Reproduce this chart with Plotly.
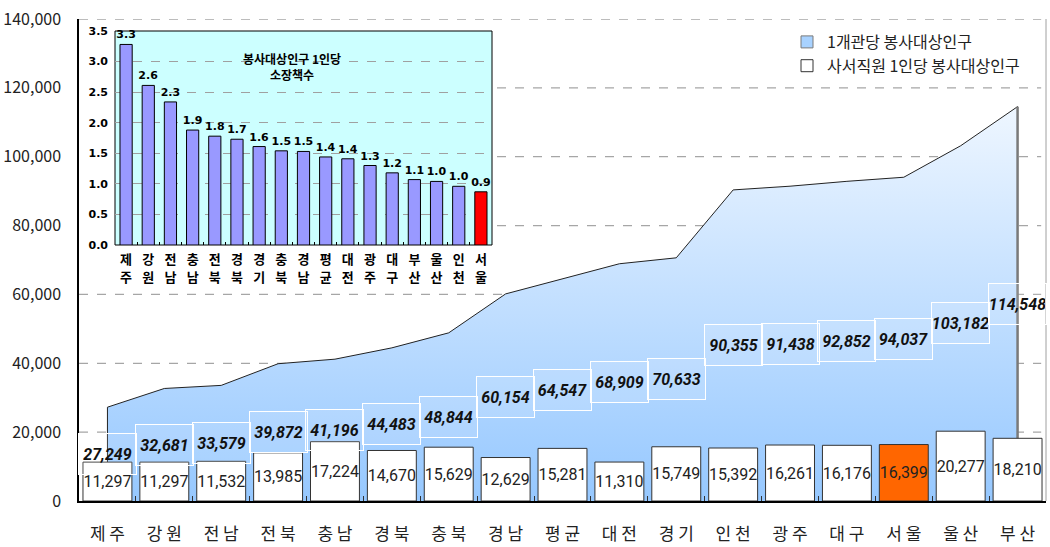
import plotly.graph_objects as go

# ---------------- data ----------------
categories = ["제주", "강원", "전남", "전북", "충남", "경북", "충북", "경남", "평균",
              "대전", "경기", "인천", "광주", "대구", "서울", "울산", "부산"]
pop_per_library = [27249, 32681, 33579, 39872, 41196, 44483, 48844, 60154, 64547,
                   68909, 70633, 90355, 91438, 92852, 94037, 103182, 114548]
pop_per_librarian = [11297, 11297, 11532, 13985, 17224, 14670, 15629, 12629, 15281,
                     11310, 15749, 15392, 16261, 16176, 16399, 20277, 18210]
highlight = "서울"

inset_categories = ["제주", "강원", "전남", "충남", "전북", "경북", "경기", "충북", "경남",
                    "평균", "대전", "광주", "대구", "부산", "울산", "인천", "서울"]
books_per_capita = [3.28, 2.61, 2.34, 1.88, 1.78, 1.73, 1.61, 1.54, 1.53,
                    1.44, 1.41, 1.30, 1.18, 1.07, 1.04, 0.96, 0.87]

y_ticks = [0, 20000, 40000, 60000, 80000, 100000, 120000, 140000]
inset_y_ticks = [0.0, 0.5, 1.0, 1.5, 2.0, 2.5, 3.0, 3.5]

name_area = "1개관당 봉사대상인구"
name_bar = "사서직원 1인당 봉사대상인구"
inset_title = "봉사대상인구 1인당<br>소장책수"

# ---------------- styling ----------------
KR = "Noto Sans CJK KR"
NUM = "Roboto"
NUM_BOLD = "DejaVu Sans"
W, H = 1050, 547
L, R, T, B = 79, 4, 19, 46
plot_w = W - L - R
plot_h = H - T - B

def px_to_xpaper(px):
    return (px - L) / plot_w

def px_to_ypaper(py):
    return 1 - (py - T) / plot_h

idx = list(range(len(categories)))
n = len(categories)

fig = go.Figure()

# area (1개관당 봉사대상인구)
area_x = [idx[0]] + idx + [idx[-1]]
area_y = [0] + pop_per_library + [0]
fig.add_trace(go.Scatter(
    x=area_x, y=area_y, mode="lines", fill="toself",
    fillgradient=dict(type="vertical",
                      colorscale=[[0, "#96C8FF"], [0.5, "#C2DFFF"], [1, "#EEF6FF"]]),
    line=dict(color="#222222", width=1),
    name=name_area, hoverinfo="skip", showlegend=False,
))
# right edge of the area
fig.add_trace(go.Scatter(
    x=[idx[-1], idx[-1]], y=[0, pop_per_library[-1]], mode="lines",
    line=dict(color="#7a7a7a", width=2.5), showlegend=False, hoverinfo="skip",
))

# bars (사서직원 1인당) on an overlaying axis pair so they sit above the area
bar_colors = ["#FF6600" if c == highlight else "#FFFFFF" for c in categories]
fig.add_trace(go.Bar(
    x=idx, y=pop_per_librarian, width=0.86, xaxis="x3", yaxis="y3",
    marker=dict(color=bar_colors, line=dict(color="#333333", width=1)),
    texttemplate="%{y:,}", textposition="inside", insidetextanchor="middle",
    textangle=0, constraintext="none",
    textfont=dict(family=NUM, size=16, color="#222222"),
    name=name_bar, hoverinfo="skip", showlegend=False,
))

# legend entries
fig.add_trace(go.Scatter(
    x=[None], y=[None], mode="markers", name=name_area,
    marker=dict(symbol="square", size=12, color="#A8D2FF", line=dict(color="#7a7a7a", width=1)),
))
fig.add_trace(go.Scatter(
    x=[None], y=[None], mode="markers", name=name_bar,
    marker=dict(symbol="square", size=12, color="#FFFFFF", line=dict(color="#333333", width=1)),
))

# inset bars
inset_idx = list(range(len(inset_categories)))
inset_colors = ["#FF0000" if c == highlight else "#9999FF" for c in inset_categories]
fig.add_trace(go.Bar(
    x=inset_idx, y=books_per_capita, width=0.55, xaxis="x2", yaxis="y2",
    marker=dict(color=inset_colors, line=dict(color="#000000", width=1)),
    texttemplate="%{y:.1f}", textposition="outside", cliponaxis=False,
    constraintext="none",
    textfont=dict(family=NUM_BOLD, size=11, color="#000000", weight="bold"),
    showlegend=False, hoverinfo="skip",
))
# carrier for the second row of inset category labels
fig.add_trace(go.Scatter(x=[None], y=[None], xaxis="x4", yaxis="y2",
                         showlegend=False, hoverinfo="skip"))

# ---------------- shapes: gridlines + inset background ----------------
shapes = []
inset_left_px, inset_right_px = 115, 492
inset_top_px, inset_bottom_px = 31, 245
inset_cover_bottom = px_to_ypaper(291)
ymax = y_ticks[-1]
for t in y_ticks[1:]:
    frac = t / ymax
    x0 = 0
    if inset_cover_bottom < frac < 0.999:
        x0 = px_to_xpaper(497)
    shapes.append(dict(type="line", xref="paper", yref="y", x0=x0, x1=0.995, y0=t, y1=t,
                       line=dict(color="#A6A6A6", width=1.3, dash="dash"), layer="below"))
shapes.append(dict(type="rect", xref="x2 domain", yref="y2 domain", x0=0, x1=1, y0=0, y1=1,
                   fillcolor="#CCFFFF", line=dict(color="#000000", width=1), layer="below"))
shapes.append(dict(type="line", xref="paper", yref="paper", x0=1, x1=1, y0=0, y1=1,
                   line=dict(color="#A0A0A0", width=1), layer="below"))

# ---------------- annotations ----------------
annotations = []
for i, v in zip(idx, pop_per_library):
    annotations.append(dict(
        x=i, y=v / 2, xref="x", yref="y", text=f"{v:,}", showarrow=False,
        xanchor="center", yanchor="middle",
        font=dict(family=NUM, size=16, color="#111111", weight="bold", style="italic"),
        width=55, height=38, bordercolor="#FFFFFF", borderwidth=1,
        bgcolor="rgba(255,255,255,0.12)",
    ))
annotations.append(dict(
    x=0.47, y=0.835, xref="x2 domain", yref="y2 domain", text=inset_title,
    xanchor="center", yanchor="middle",
    showarrow=False, font=dict(family=KR, size=12, color="#000000", weight="bold"),
))

common_x = dict(range=[-0.5, n - 0.5], automargin=False)
common_y = dict(range=[0, ymax], automargin=False)
inset_domain_x = [px_to_xpaper(inset_left_px), px_to_xpaper(inset_right_px)]
inset_range_x = [-0.5, len(inset_categories) - 0.5]
inset_tickfont = dict(family=KR, size=13, color="#000000", weight="bold")

fig.update_layout(
    width=W, height=H,
    margin=dict(l=L, r=R, t=T, b=B, pad=0),
    paper_bgcolor="#FFFFFF", plot_bgcolor="rgba(0,0,0,0)",
    font=dict(family=KR, size=16, color="#222222"),
    showlegend=True,
    legend=dict(x=px_to_xpaper(787), y=px_to_ypaper(25), xanchor="left", yanchor="top",
                bgcolor="#FFFFFF", borderwidth=0, itemwidth=30, tracegroupgap=0,
                font=dict(family=KR, size=16, color="#222222"),
                traceorder="normal"),
    shapes=shapes, annotations=annotations,
    xaxis=dict(
        **common_x, tickvals=idx, ticktext=[" ".join(c) for c in categories],
        showline=True, linecolor="#000000", linewidth=1.5, showgrid=False, zeroline=False,
        ticks="", ticklabelstandoff=17,
        tickfont=dict(family=KR, size=17, color="#222222"),
        minor=dict(tickvals=[i + 0.5 for i in idx[:-1]], ticks="inside", ticklen=5,
                   tickcolor="#333333", showgrid=False),
    ),
    yaxis=dict(
        **common_y, tickvals=y_ticks, tickformat=",", showgrid=False,
        showline=True, linecolor="#000000", linewidth=1.5, zeroline=False, ticks="",
        ticklabelstandoff=13,
        tickfont=dict(family=KR, size=16, color="#222222"),
    ),
    xaxis3=dict(**common_x, overlaying="x", visible=False, anchor="y3"),
    yaxis3=dict(**common_y, overlaying="y", visible=False, anchor="x3"),
    xaxis2=dict(
        domain=inset_domain_x, anchor="y2", range=inset_range_x, automargin=False,
        tickvals=inset_idx, ticktext=[c[0] for c in inset_categories],
        showline=False, showgrid=False, zeroline=False, ticks="", ticklabelstandoff=5,
        tickfont=inset_tickfont,
        minor=dict(tickvals=[i + 0.5 for i in inset_idx[:-1]], ticks="inside", ticklen=3,
                   tickcolor="#000000", showgrid=False),
    ),
    xaxis4=dict(
        overlaying="x2", anchor="y2", side="bottom", range=inset_range_x, automargin=False,
        tickvals=inset_idx, ticktext=[c[1] for c in inset_categories],
        showline=False, showgrid=False, zeroline=False, ticks="", ticklabelstandoff=23,
        tickfont=inset_tickfont,
    ),
    yaxis2=dict(
        domain=[px_to_ypaper(inset_bottom_px), px_to_ypaper(inset_top_px)],
        anchor="x2", range=[0, inset_y_ticks[-1]], tickvals=inset_y_ticks, tickformat=".1f",
        automargin=False,
        showgrid=True, gridcolor="#A0A0A0", griddash="dash", gridwidth=1,
        showline=False, zeroline=False, ticks="", ticklabelstandoff=6,
        tickfont=dict(family=NUM_BOLD, size=11, color="#000000", weight="bold"),
    ),
)

fig.write_html("out.html", config={"displayModeBar": False},
               post_script="document.body.style.margin='0';document.body.style.overflow='hidden';")
